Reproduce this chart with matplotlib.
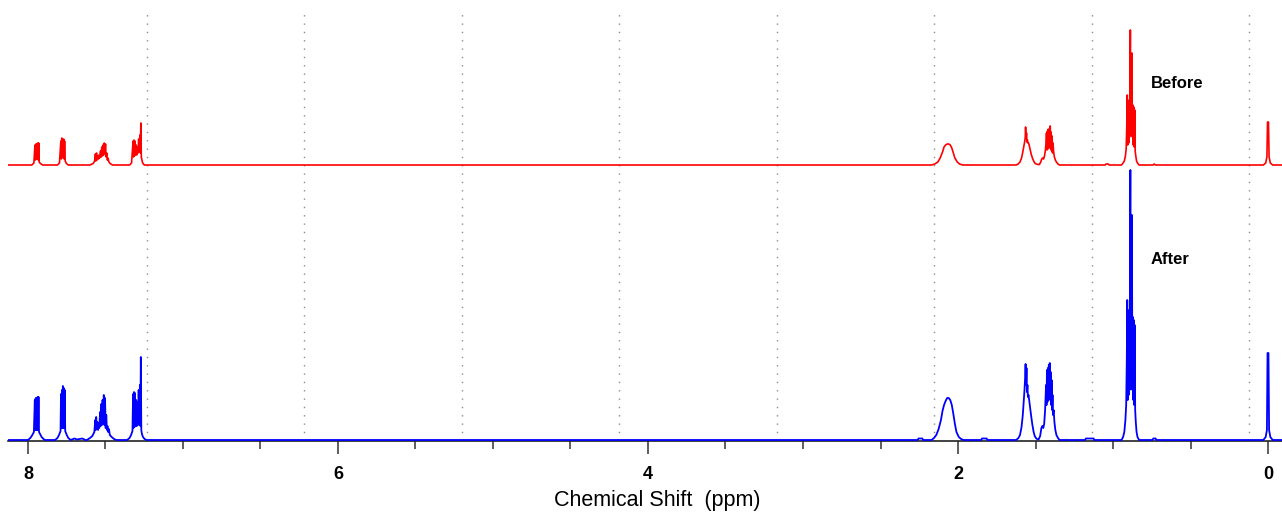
import matplotlib
matplotlib.use("Agg")
import matplotlib.pyplot as plt
import numpy as np

# ---------------- data ----------------
# traced vertices of the "Before" spectrum: (chemical shift ppm, intensity a.u.)
before_trace = [
    (8.13, 0), (7.975, 0), (7.962, 2), (7.955, 20), (7.952, 5), (7.949, 21), (7.946, 6),
    (7.943, 21), (7.940, 6), (7.937, 22), (7.934, 5), (7.931, 22), (7.928, 3), (7.920, 1.5),
    (7.905, 0),
    (7.810, 0), (7.797, 2), (7.788, 24), (7.785, 6), (7.782, 27), (7.779, 8), (7.776, 25),
    (7.773, 7), (7.770, 26), (7.767, 6), (7.764, 24), (7.760, 4), (7.752, 1.5), (7.740, 0),
    (7.600, 0), (7.580, 1.5), (7.570, 4), (7.565, 11), (7.562, 4), (7.558, 12), (7.554, 5),
    (7.550, 9), (7.546, 6), (7.542, 10), (7.538, 7), (7.532, 14), (7.528, 8), (7.524, 18),
    (7.520, 9), (7.516, 20), (7.512, 10), (7.508, 22), (7.504, 12), (7.500, 21), (7.496, 8),
    (7.492, 12), (7.488, 5), (7.484, 7), (7.478, 3), (7.470, 1.5), (7.455, 0),
    (7.345, 0), (7.332, 2), (7.322, 24), (7.319, 8), (7.316, 25), (7.313, 9), (7.310, 24),
    (7.306, 10), (7.302, 20), (7.298, 10), (7.294, 18), (7.290, 12), (7.286, 26), (7.282, 14),
    (7.278, 30), (7.275, 12), (7.272, 42), (7.269, 8), (7.265, 5), (7.260, 2), (7.250, 0),
    (2.170, 0), (2.150, 1), (2.130, 3), (2.115, 7), (2.100, 13), (2.090, 18), (2.080, 20),
    (2.070, 21), (2.060, 21), (2.050, 20), (2.040, 17), (2.030, 12), (2.020, 7), (2.005, 3),
    (1.990, 1), (1.970, 0),
    (1.625, 0), (1.612, 1), (1.600, 3), (1.590, 7), (1.582, 13), (1.575, 19), (1.569, 24),
    (1.566, 28), (1.564, 38), (1.561, 27), (1.558, 32), (1.555, 23), (1.552, 25), (1.549, 22),
    (1.545, 22), (1.541, 20), (1.535, 16), (1.528, 11), (1.520, 7), (1.512, 4), (1.505, 2),
    (1.495, 1), (1.485, 0.5),
    (1.475, 0.5), (1.466, 3), (1.460, 6), (1.454, 7), (1.448, 6), (1.442, 9), (1.436, 15),
    (1.432, 22), (1.429, 32), (1.426, 15), (1.423, 34), (1.420, 16), (1.417, 36), (1.414, 17),
    (1.411, 35), (1.408, 18), (1.405, 39), (1.402, 16), (1.399, 33), (1.396, 14), (1.393, 29),
    (1.390, 12), (1.387, 22), (1.383, 13), (1.378, 8), (1.372, 5), (1.365, 3), (1.355, 1),
    (1.345, 0),
    (1.050, 0), (1.045, 1), (1.030, 1), (1.025, 0),
    (0.945, 0), (0.935, 2), (0.927, 4), (0.920, 9), (0.915, 16), (0.911, 40), (0.908, 70),
    (0.905, 20), (0.902, 60), (0.899, 22), (0.896, 65), (0.893, 28), (0.890, 100), (0.888, 135),
    (0.886, 30), (0.883, 90), (0.880, 30), (0.878, 112), (0.875, 28), (0.872, 60), (0.869, 20),
    (0.866, 58), (0.863, 18), (0.860, 55), (0.857, 14), (0.853, 9), (0.848, 4), (0.842, 2),
    (0.832, 0),
    (0.740, 0), (0.735, 1), (0.725, 0),
    (0.030, 0), (0.015, 2), (0.007, 8), (0.003, 43), (-0.003, 43), (-0.007, 8), (-0.015, 2),
    (-0.030, 0), (-0.130, 0),
]

# traced vertices of the "After" spectrum: (chemical shift ppm, intensity a.u.)
after_trace = [
    (8.13, 0), (8.000, 0), (7.985, 2), (7.972, 5), (7.962, 8), (7.956, 40), (7.953, 10),
    (7.950, 42), (7.947, 10), (7.944, 41), (7.941, 10), (7.938, 43), (7.935, 10), (7.932, 43),
    (7.929, 8), (7.922, 6), (7.912, 3), (7.900, 1), (7.890, 0),
    (7.825, 0), (7.810, 2), (7.800, 5), (7.790, 9), (7.787, 46), (7.784, 12), (7.781, 50),
    (7.778, 12), (7.775, 54), (7.772, 12), (7.769, 52), (7.766, 12), (7.763, 50), (7.760, 9),
    (7.750, 5), (7.740, 2), (7.725, 0),
    (7.700, 1.5), (7.685, 0.5), (7.650, 1.5), (7.630, 0),
    (7.620, 0), (7.600, 2), (7.585, 4), (7.572, 8), (7.566, 20), (7.563, 10), (7.560, 23),
    (7.556, 12), (7.552, 18), (7.548, 10), (7.544, 17), (7.540, 12), (7.535, 28), (7.531, 14),
    (7.527, 36), (7.523, 15), (7.519, 40), (7.515, 16), (7.511, 45), (7.507, 15), (7.503, 42),
    (7.499, 12), (7.495, 25), (7.491, 10), (7.487, 14), (7.483, 8), (7.478, 11), (7.472, 5),
    (7.460, 3), (7.445, 1), (7.430, 0),
    (7.360, 0), (7.345, 2), (7.335, 5), (7.326, 9), (7.322, 46), (7.319, 12), (7.316, 48),
    (7.313, 13), (7.310, 47), (7.306, 14), (7.302, 40), (7.298, 14), (7.294, 38), (7.290, 15),
    (7.286, 50), (7.282, 16), (7.278, 55), (7.275, 14), (7.272, 83), (7.269, 10), (7.265, 6),
    (7.258, 3), (7.248, 1), (7.235, 0),
    (2.260, 0), (2.255, 1.5), (2.230, 1.5), (2.225, 0),
    (2.170, 0), (2.155, 2), (2.140, 5), (2.125, 11), (2.110, 20), (2.100, 29), (2.090, 35),
    (2.080, 39), (2.070, 42), (2.060, 42), (2.050, 40), (2.040, 35), (2.030, 26), (2.020, 16),
    (2.010, 8), (1.995, 3), (1.980, 1), (1.965, 0),
    (1.850, 0), (1.845, 1.5), (1.815, 1.5), (1.810, 0),
    (1.625, 0), (1.610, 2), (1.600, 5), (1.590, 13), (1.582, 25), (1.576, 38), (1.571, 50),
    (1.567, 62), (1.564, 76), (1.561, 55), (1.558, 72), (1.555, 48), (1.552, 55), (1.549, 43),
    (1.545, 45), (1.541, 40), (1.535, 33), (1.528, 24), (1.520, 15), (1.512, 8), (1.505, 4),
    (1.495, 1.5), (1.485, 0.5),
    (1.480, 0.5), (1.470, 4), (1.462, 12), (1.456, 14), (1.450, 12), (1.444, 16), (1.438, 30),
    (1.432, 55), (1.429, 35), (1.426, 70), (1.423, 38), (1.420, 72), (1.417, 40), (1.414, 75),
    (1.411, 45), (1.408, 77), (1.405, 40), (1.402, 68), (1.399, 35), (1.396, 60), (1.393, 30),
    (1.390, 45), (1.387, 25), (1.383, 30), (1.378, 18), (1.372, 10), (1.365, 5), (1.355, 2),
    (1.345, 0),
    (1.180, 0), (1.175, 1.5), (1.125, 1.5), (1.120, 0),
    (0.945, 0), (0.935, 3), (0.927, 8), (0.920, 20), (0.915, 35), (0.911, 80), (0.908, 140),
    (0.905, 40), (0.902, 120), (0.899, 45), (0.896, 130), (0.893, 50), (0.890, 200),
    (0.888, 270), (0.886, 60), (0.883, 180), (0.880, 60), (0.878, 225), (0.875, 50),
    (0.872, 123), (0.869, 40), (0.866, 120), (0.863, 35), (0.860, 115), (0.857, 30),
    (0.853, 18), (0.848, 8), (0.842, 3), (0.832, 0),
    (0.745, 0), (0.740, 1.5), (0.725, 1.5), (0.720, 0),
    (0.030, 0), (0.015, 3), (0.007, 10), (0.003, 87), (-0.003, 87), (-0.007, 10),
    (-0.015, 3), (-0.030, 0), (-0.130, 0),
]

grid_ppm = [7.234, 6.218, 5.201, 4.185, 3.169, 2.153, 1.136, 0.120]
major_ticks = [8, 6, 4, 2, 0]
minor_ticks = [7.5, 7, 6.5, 5.5, 5, 4.5, 3.5, 3, 2.5, 1.5, 1, 0.5]
tick_labels = ["8", "6", "4", "2", "0"]
labels = ["Before", "After"]
xlabel = "Chemical Shift  (ppm)"

# ---------------- figure ----------------
plt.rcParams["font.family"] = ["Liberation Sans", "DejaVu Sans"]
W, H = 1282, 515
fig = plt.figure(figsize=(W / 100, H / 100), dpi=100)
ax = fig.add_axes([8 / W, 74 / H, 1 - 8 / W, (441 - 10) / H])

before_offset = 275

for g in grid_ppm:
    ax.axvline(g, color="#8c8c8c", lw=1.0, ls=(0, (1, 5)), zorder=1)

bx, by = np.array(before_trace).T
axx, ayy = np.array(after_trace).T
ax.plot(bx, by + before_offset, color="#ff0000", lw=1.2, zorder=3)
ax.plot(axx, ayy, color="#0000ff", lw=1.3, zorder=3)

ax.text(0.587, before_offset + 82, labels[0], fontsize=12, fontweight="bold",
        ha="center", va="center", color="black")
ax.text(0.632, 180, labels[1], fontsize=12, fontweight="bold",
        ha="center", va="center", color="black")

ax.set_xlim(8.129, -0.0903)
ax.set_ylim(-1, 430)

for s in ["top", "right", "left"]:
    ax.spines[s].set_visible(False)
ax.spines["bottom"].set_color("#222222")
ax.spines["bottom"].set_linewidth(1.2)
ax.set_yticks([])
ax.set_xticks(major_ticks)
ax.set_xticklabels(tick_labels, fontsize=13, fontweight="bold")
ax.set_xticks(minor_ticks, minor=True)
ax.tick_params(axis="x", which="major", direction="out", length=9, width=1.1,
               color="#333333", pad=9)
ax.tick_params(axis="x", which="minor", direction="out", length=6, width=1.1,
               color="#333333")
ax.set_xlabel(xlabel, fontsize=15.5)
ax.xaxis.set_label_coords(0.510, -0.114)

fig.savefig("out.png", dpi=100)
